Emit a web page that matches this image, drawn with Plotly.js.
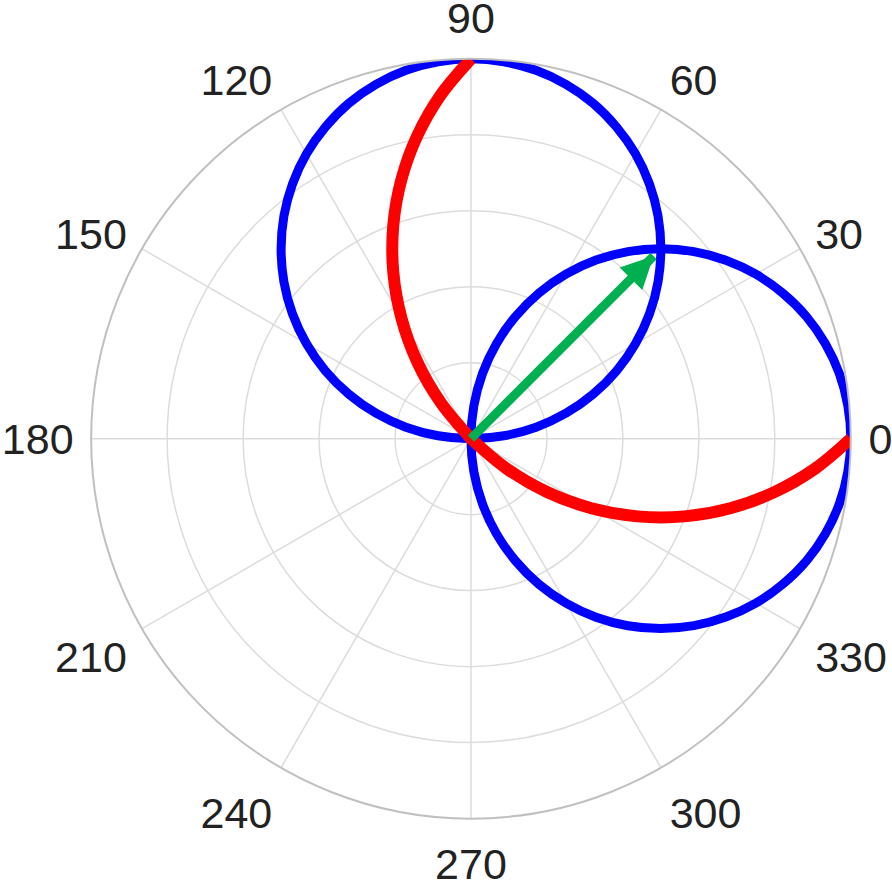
<!DOCTYPE html>
<html>
<head>
<meta charset="utf-8">
<script src="https://cdn.plot.ly/plotly-3.0.1.min.js"></script>
<style>html,body{margin:0;padding:0;background:#fff;}#chart{width:892px;height:892px;}</style>
</head>
<body>
<div id="chart"></div>
<script>
// Blue circle radii, read every 5 degrees along each circle
const circleR = [0, 0.087, 0.174, 0.259, 0.342, 0.423, 0.5, 0.574, 0.643, 0.707, 0.766, 0.819, 0.866, 0.906, 0.940, 0.966, 0.985, 0.996, 1,
                 0.996, 0.985, 0.966, 0.940, 0.906, 0.866, 0.819, 0.766, 0.707, 0.643, 0.574, 0.5, 0.423, 0.342, 0.259, 0.174, 0.087, 0];
const thetaCircleA = [-90, -85, -80, -75, -70, -65, -60, -55, -50, -45, -40, -35, -30, -25, -20, -15, -10, -5, 0,
                      5, 10, 15, 20, 25, 30, 35, 40, 45, 50, 55, 60, 65, 70, 75, 80, 85, 90];
const thetaCircleB = [0, 5, 10, 15, 20, 25, 30, 35, 40, 45, 50, 55, 60, 65, 70, 75, 80, 85, 90,
                      95, 100, 105, 110, 115, 120, 125, 130, 135, 140, 145, 150, 155, 160, 165, 170, 175, 180];
// Red curve
const thetaRed = [90, 95, 100, 105, 110, 115, 120, 125, 130, 135, 315, 320, 325, 330, 335, 340, 345, 350, 355, 360];
const rRed = [1, 0.909, 0.811, 0.707, 0.598, 0.484, 0.366, 0.246, 0.123, 0, 0, 0.123, 0.246, 0.366, 0.484, 0.598, 0.707, 0.811, 0.909, 1];
// Green arrow
const thetaArrow = [45, 45];
const rArrow = [0, 0.68];
// Angular tick labels
const angTicks = [0, 30, 60, 90, 120, 150, 180, 210, 240, 270, 300, 330];
const radTicks = [0.2, 0.4, 0.6, 0.8, 1.0];

const traces = [
  {type: 'scatterpolar', mode: 'lines', r: circleR, theta: thetaCircleA,
   line: {color: '#0000ff', width: 9, shape: 'spline', smoothing: 1}, hoverinfo: 'skip', showlegend: false},
  {type: 'scatterpolar', mode: 'lines', r: circleR, theta: thetaCircleB,
   line: {color: '#0000ff', width: 9, shape: 'spline', smoothing: 1}, hoverinfo: 'skip', showlegend: false},
  {type: 'scatterpolar', mode: 'lines', r: rRed, theta: thetaRed,
   line: {color: '#ff0000', width: 12, shape: 'spline', smoothing: 1}, hoverinfo: 'skip', showlegend: false},
  {type: 'scatterpolar', mode: 'lines+markers', r: rArrow, theta: thetaArrow,
   line: {color: '#00b050', width: 9},
   marker: {color: '#00b050', opacity: 1, symbol: 'arrow-up', size: [0, 32], angle: 45, line: {width: 0}},
   hoverinfo: 'skip', showlegend: false}
];

const layout = {
  width: 892, height: 892,
  margin: {l: 0, r: 0, t: 0, b: 0},
  paper_bgcolor: '#ffffff',
  showlegend: false,
  font: {family: 'Arial, "Liberation Sans", sans-serif', color: '#222222', size: 43},
  polar: {
    domain: {x: [0.102, 0.954], y: [0.0824, 0.934]},
    bgcolor: '#ffffff',
    angularaxis: {
      rotation: 0, direction: 'counterclockwise',
      tickvals: angTicks, ticktext: angTicks.map(String),
      ticks: 'outside', ticklen: 8, tickcolor: 'rgba(0,0,0,0)',
      showline: true, linecolor: '#c0c0c0', linewidth: 2,
      gridcolor: '#dcdcdc', gridwidth: 1.5,
      tickfont: {size: 43, color: '#222222'}
    },
    radialaxis: {
      range: [0, 1], tickvals: radTicks, showticklabels: false, ticks: '',
      showline: false, gridcolor: '#dcdcdc', gridwidth: 1.5
    }
  }
};

Plotly.newPlot('chart', traces, layout, {displayModeBar: false, staticPlot: true});
</script>
</body>
</html>
